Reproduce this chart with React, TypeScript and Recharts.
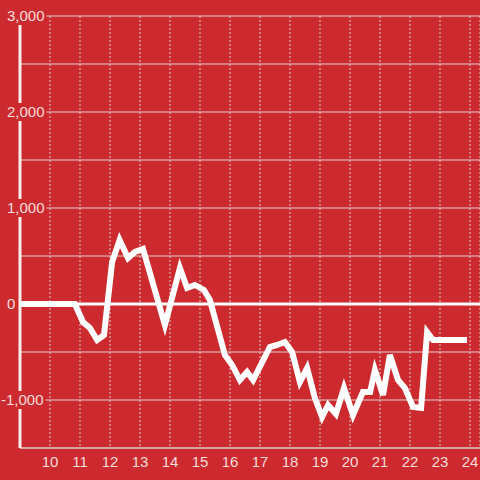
import React from "react";
import {
  LineChart,
  Line,
  XAxis,
  YAxis,
  CartesianGrid,
  ReferenceLine,
} from "recharts";

const BG = "#cc2a2f";
const LABEL = "#f5dcdc";
const GRID = "#d9d0d0";

// hour of day
const hours = [
  9, 10.83, 11.1, 11.33, 11.57, 11.8, 12.07, 12.32, 12.6, 12.83, 13.1, 13.83,
  14.33, 14.57, 14.83, 15.13, 15.33, 15.83, 16.07, 16.33, 16.57, 16.77, 17.33,
  17.57, 17.83, 18.07, 18.33, 18.57, 18.83, 19.07, 19.27, 19.53, 19.8, 20.1,
  20.43, 20.67, 20.83, 21.1, 21.33, 21.6, 21.83, 22.1, 22.37, 22.57, 22.77, 23.9,
];

const values = [
  0, 0, -188, -250, -375, -323, 437, 667, 479, 542, 573, -219, 375, 167, 198,
  146, 42, -531, -635, -792, -708, -792, -448, -427, -396, -500, -812, -667,
  -979, -1177, -1052, -1146, -875, -1156, -917, -917, -687, -948, -531, -792,
  -875, -1073, -1083, -292, -375, -375,
];

const xTicks = [10, 11, 12, 13, 14, 15, 16, 17, 18, 19, 20, 21, 22, 23, 24];
const yTicks = [-1500, -1000, -500, 0, 500, 1000, 1500, 2000, 2500, 3000];

const data = hours.map((h, i) => ({ h, v: values[i] }));

const charW = (c: string) => (c === "," ? 0.278 : c === "-" ? 0.333 : 0.556);

function YTick(props: any) {
  const { y, payload } = props;
  const v = payload.value;
  if (v % 1000 !== 0) return <g />;
  const label = v.toLocaleString("en-US");
  const x0 = v < 0 ? 1 : 7;
  const w = label.split("").reduce((s: number, c: string) => s + charW(c) * 15, 0);
  return (
    <g>
      <rect x={x0 - 1} y={y - 9} width={w + 3} height={18} fill={BG} />
      <text x={x0} y={y} dy={5} fontSize={15} fill={LABEL} textAnchor="start">
        {label}
      </text>
    </g>
  );
}

export default function App() {
  return (
    <div style={{ position: "absolute", left: 0, top: 0, background: BG }}>
      <LineChart
        width={480}
        height={480}
        data={data}
        margin={{ top: 16, right: 0, bottom: 0, left: 0 }}
        style={{ fontFamily: "'Liberation Sans', Arial, sans-serif" }}
      >
        <CartesianGrid vertical={false} stroke={GRID} strokeWidth={1} />
        <CartesianGrid horizontal={false} stroke={GRID} strokeDasharray="2 2" />
        <XAxis
          dataKey="h"
          type="number"
          domain={[9, 24.333]}
          ticks={xTicks}
          allowDataOverflow
          height={32}
          tickLine={false}
          tickSize={0}
          tickMargin={8}
          axisLine={{ stroke: GRID }}
          tick={{ fill: LABEL, fontSize: 15 }}
        />
        <YAxis
          type="number"
          domain={[-1500, 3000]}
          ticks={yTicks}
          width={20}
          tickLine={false}
          axisLine={{ stroke: "#f4eeee", strokeWidth: 3 }}
          tick={<YTick />}
        />
        <ReferenceLine y={0} stroke="#ffffff" strokeWidth={3} />
        <Line
          type="linear"
          dataKey="v"
          stroke="#ffffff"
          strokeWidth={6}
          dot={false}
          isAnimationActive={false}
        />
      </LineChart>
    </div>
  );
}
